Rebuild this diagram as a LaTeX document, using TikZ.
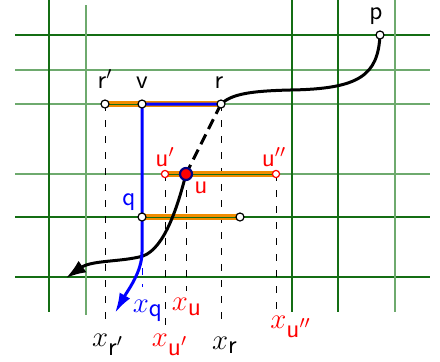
\documentclass[tikz,border=0pt]{standalone}
\usetikzlibrary{positioning,arrows.meta}
\definecolor{griddark}{RGB}{20,110,20}
\definecolor{gridlight}{RGB}{110,170,110}
\definecolor{segorange}{RGB}{240,140,0}
\definecolor{navyrim}{RGB}{0,0,130}
\newcommand{\subsf}[1]{\mbox{\fontsize{13}{15}\selectfont\sffamily #1}}

\begin{document}
\begin{tikzpicture}[x=0.5pt, y=-0.5pt,
  every node/.style={font=\sffamily\fontsize{13}{15}\selectfont},
  gdark/.style={draw=griddark, line width=0.6pt},
  glight/.style={draw=gridlight, line width=0.6pt},
  guide/.style={line width=0.5pt, dash pattern=on 3.5pt off 4.5pt, shorten >=2pt},
  seg/.style={draw=segorange, double=griddark, double distance=0.5pt, line width=1.35pt},
  curve/.style={line width=1.5pt},
  pt/.style={circle, draw, fill=white, line width=0.6pt, inner sep=0pt, minimum size=4pt},
  ptred/.style={pt, draw=red, minimum size=3.6pt},
  lbl/.style={inner sep=1.5pt},
  xlbl/.style={font=\Large, inner sep=1.5pt}
]
\useasboundingbox (0,0) rectangle (440,361);

% positions of the points
\coordinate (rp) at (105,104);
\coordinate (v) at (142,104);
\coordinate (r) at (221,104);
\coordinate (p) at (380,35);
\coordinate (up) at (165,174);
\coordinate (u) at (186,174);
\coordinate (upp) at (276,174);
\coordinate (q) at (142,217);
\coordinate (qe) at (240,217);
\coordinate (bq) at (142,252);
\coordinate (bt) at (115,313);
\coordinate (kt) at (66,278);

% labels on the axis
\node[xlbl, blue] (xq) at (148,311) {$x_{\subsf{q}}$};
\node[xlbl, red] (xu) at (187,307) {$x_{\subsf{u}}$};
\node[xlbl, red] (xupp) at (291,327) {$x_{\subsf{u$''$}}$};
\node[xlbl] (xrp) at (108,345) {$x_{\subsf{r$'$}}$};
\node[xlbl, red] (xup) at (170,345) {$x_{\subsf{u$'$}}$};
\node[xlbl] (xr) at (225,345) {$x_{\subsf{r}}$};

% grid
\draw[gdark] (15,35) -- (430,35);
\draw[glight] (15,70) -- (430,70);
\draw[glight] (15,104) -- (430,104);
\draw[glight] (15,174) -- (430,174);
\draw[gdark] (15,217) -- (430,217);
\draw[gdark] (15,277) -- (430,277);
\draw[gdark] (49,0) -- (49,312);
\draw[glight] (86,5) -- (86,315);
\draw[gdark] (292,0) -- (292,312);
\draw[gdark] (338,0) -- (338,312);
\draw[glight] (395,0) -- (395,312);

% dashed guides down to the axis labels
\draw[guide] (rp) -- (rp |- xrp.north);
\draw[guide] (up) -- (up |- xup.north);
\draw[guide] (u) -- (u |- xu.north);
\draw[guide, shorten >=7pt] (r) -- (r |- xr.north);
\draw[guide] (upp) -- (upp |- xupp.north);
\draw[guide, blue, shorten >=5pt] (bq) -- (bq |- xq.north);

% orange segments
\draw[seg] (rp) -- (r);
\draw[seg] (up) -- (upp);
\draw[seg] (q) -- (qe);

% paths
\draw[curve] (r) .. controls (232,94) and (250,91) .. (290,90)
  .. controls (360,89) and (378,75) .. (p);
\draw[curve, -{Latex[length=10pt,width=7pt]}] (u) .. controls (178,205) and (165,248) .. (143,256)
  .. controls (122,262) and (92,260) .. (kt);
\draw[curve, blue, -{Latex[length=10pt,width=6pt]}] (r) -- (v) -- (bq)
  .. controls (142,272) and (128,290) .. (bt);
\draw[curve, dash pattern=on 5.5pt off 3pt] (r) -- (u);

% points
\node[pt] (rpdot) at (rp) {};
\node[pt] (vdot) at (v) {};
\node[pt] (rdot) at (r) {};
\node[pt] (pdot) at (p) {};
\node[ptred] (updot) at (up) {};
\node[ptred] (uppdot) at (upp) {};
\node[pt] (qdot) at (q) {};
\node[pt] (qedot) at (qe) {};
\node[circle, fill=red, draw=navyrim, line width=1.1pt, inner sep=0pt, minimum size=6pt] (udot) at (u) {};

% point labels
\node[lbl, above=4pt of rpdot] (rplbl) {r$'$};
\node[lbl, above=4pt of vdot] (vlbl) {v};
\node[lbl, above=4pt of rdot, xshift=-1pt] (rlbl) {r};
\node[lbl, above=1pt of pdot, xshift=-2pt] (plbl) {p};
\node[lbl, red, above=0pt of updot] (uplbl) {u$'$};
\node[lbl, red, above=0pt of uppdot, xshift=-1pt] (upplbl) {u$''$};
\node[lbl, red, below right=0pt and 0pt of udot] (ulbl) {u};
\node[lbl, blue, above left=0pt and 0pt of qdot] (qlbl) {q};
\end{tikzpicture}
\end{document}
